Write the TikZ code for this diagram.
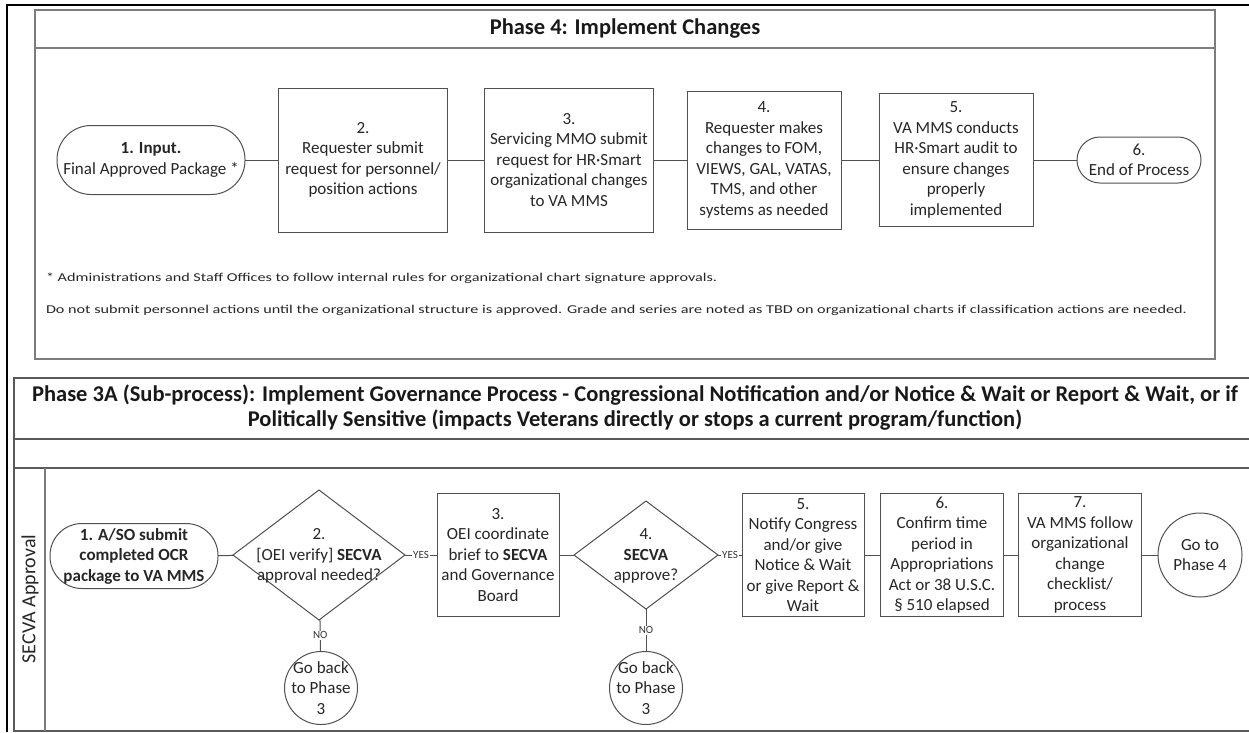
\documentclass[tikz,border=0pt]{standalone}
\usepackage{fontspec}
\setmainfont{Carlito}
\newfontfamily\notefont{Carlito}[FakeStretch=1.35]
\usetikzlibrary{shapes.geometric}
\definecolor{ln}{RGB}{80,80,80}
\definecolor{frfour}{RGB}{125,125,125}
\definecolor{frthree}{RGB}{90,90,90}
\begin{document}
\begin{tikzpicture}[x=1pt,y=-1pt,
  every node/.style={inner sep=0pt,outer sep=0pt},
  body/.style={font=\fontsize{17}{20.5}\selectfont,align=center,text=black!85},
  procbox/.style={body,draw=ln,line width=1pt,rectangle},
  term/.style={body,draw=ln,line width=1pt,rectangle},
  decision/.style={draw=ln,line width=1pt,diamond},
  conncirc/.style={body,draw=ln,line width=1pt,circle},
  conn/.style={draw=ln,line width=1pt},
  lab/.style={fill=white,font=\fontsize{11}{13}\selectfont,text=black!80,inner sep=1pt},
  ttl/.style={font=\bfseries\fontsize{22.5}{25}\selectfont,align=center,text=black!90},
  note/.style={font=\notefont\fontsize{12}{14}\selectfont,text=black!85,anchor=west}
]
\useasboundingbox (0,0) rectangle (1249,732);
% outer frame
\draw[black,line width=2pt] (7,732) -- (7,5) -- (1249,5);
% Phase 4 frame
\draw[frfour,line width=1.8pt] (35,10) rectangle (1215,359);
\draw[frfour,line width=1.5pt] (35,48) -- (1215,48);
\node[ttl] (t4) at (625,29) {Phase 4: Implement Changes};
% Phase 4 nodes
\node[term,minimum width=188,minimum height=69,rounded corners=34] (a1) at (151,160) {\textbf{1. Input.}\\Final Approved Package *};
\node[procbox,minimum width=169,minimum height=144] (a2) at (363,160) {2.\\Requester submit\\request for personnel/\\position actions};
\node[procbox,minimum width=169,minimum height=144] (a3) at (569,160) {3.\\Servicing MMO submit\\request for HR·Smart\\organizational changes\\to VA MMS};
\node[procbox,minimum width=154,minimum height=138] (a4) at (764,160) {4.\\Requester makes\\changes to FOM,\\VIEWS, GAL, VATAS,\\TMS, and other\\systems as needed};
\node[procbox,minimum width=154,minimum height=133] (a5) at (956,160) {5.\\VA MMS conducts\\HR·Smart audit to\\ensure changes\\properly\\implemented};
\node[term,minimum width=124,minimum height=46,rounded corners=23] (a6) at (1139,160) {6.\\End of Process};
\draw[conn] (a1) -- (a2);
\draw[conn] (a2) -- (a3);
\draw[conn] (a3) -- (a4);
\draw[conn] (a4) -- (a5);
\draw[conn] (a5) -- (a6);
\node[note] (n1) at (46,278) {* Administrations and Staff Offices to follow internal rules for organizational chart signature approvals.};
\node[note] (n2) at (46,310) {Do not submit personnel actions until the organizational structure is approved. Grade and series are noted as TBD on organizational charts if classification actions are needed.};
% Phase 3A frame
\draw[frthree,line width=1.8pt] (1249,378) -- (14,378) -- (14,731) -- (1249,731);
\draw[frthree,line width=1.5pt] (14,439) -- (1249,439);
\draw[frthree,line width=1.5pt] (14,468) -- (1249,468);
\draw[frfour,line width=1.5pt] (45,468) -- (45,731);
\node[ttl] (t3) at (635,408) {Phase 3A (Sub-process): Implement Governance Process - Congressional Notification and/or Notice \& Wait or Report \& Wait, or if\\Politically Sensitive (impacts Veterans directly or stops a current program/function)};
\node[rotate=90,font=\fontsize{20}{22}\selectfont,text=black!85] (lane) at (30,599) {SECVA Approval};
% Phase 3A nodes
\node[term,minimum width=168,minimum height=65,rounded corners=32,font=\bfseries\fontsize{17}{20.5}\selectfont] (b1) at (134,556) {1. A/SO submit\\completed OCR\\package to VA MMS};
\node[decision,minimum width=172,minimum height=130] (b2) at (319,555) {};
\node[body] (b2t) at (319,556) {2.\\{}[OEI verify] \textbf{SECVA}\\approval needed?};
\node[procbox,minimum width=122,minimum height=123] (b3) at (498,555) {3.\\OEI coordinate\\brief to \textbf{SECVA}\\and Governance\\Board};
\node[decision,minimum width=144,minimum height=108] (b4) at (646,555) {};
\node[body] (b4t) at (646,556) {4.\\\textbf{SECVA}\\approve?};
\node[procbox,minimum width=122,minimum height=123] (b5) at (803,555) {5.\\Notify Congress\\and/or give\\Notice \& Wait\\or give Report \&\\Wait};
\node[procbox,minimum width=123,minimum height=123] (b6) at (942,555) {6.\\Confirm time\\period in\\Appropriations\\Act or 38 U.S.C.\\§ 510 elapsed};
\node[procbox,minimum width=123,minimum height=123] (b7) at (1080,555) {7.\\VA MMS follow\\organizational\\change\\checklist/\\process};
\node[conncirc,minimum size=84] (b8) at (1200,555) {Go to\\Phase 4};
\node[conncirc,minimum size=73] (b9) at (321,688) {};
\node[body] (b9t) at (321,688) {Go back\\to Phase\\3};
\node[conncirc,minimum size=73] (b10) at (646,688) {};
\node[body] (b10t) at (646,688) {Go back\\to Phase\\3};
\draw[conn] (b1) -- (b2);
\draw[conn] (b2) -- node[lab,midway] {YES} (b3);
\draw[conn] (b3) -- (b4);
\draw[conn] (b4) -- node[lab,midway] {YES} (b5);
\draw[conn] (b5) -- (b6);
\draw[conn] (b6) -- (b7);
\draw[conn] (b7) -- (b8);
\draw[conn] (b2) -- node[lab,midway] {NO} (b9);
\draw[conn] (b4) -- node[lab,midway] {NO} (b10);
\end{tikzpicture}
\end{document}
